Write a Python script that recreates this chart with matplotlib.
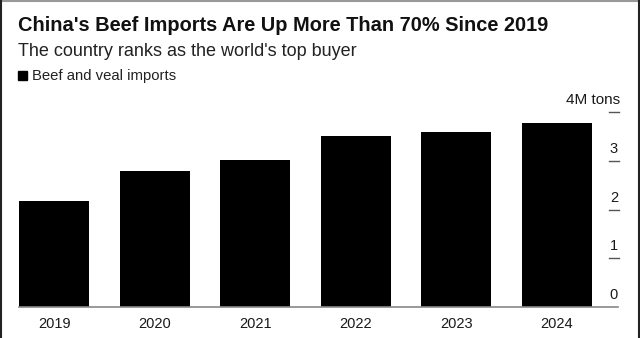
import matplotlib
matplotlib.use("Agg")
import matplotlib.pyplot as plt
import matplotlib.transforms as mtransforms
from matplotlib.lines import Line2D
from matplotlib.patches import Rectangle

years = ["2019", "2020", "2021", "2022", "2023", "2024"]
imports_mt = [2.18, 2.79, 3.03, 3.52, 3.59, 3.78]
y_ticks = [0, 1, 2, 3, 4]
y_tick_labels = ["0", "1", "2", "3", "4M tons"]

title = "China's Beef Imports Are Up More Than 70% Since 2019"
subtitle = "The country ranks as the world's top buyer"
legend_label = "Beef and veal imports"

plt.rcParams["font.family"] = ["Liberation Sans", "DejaVu Sans"]

W, H = 640, 338
fig = plt.figure(figsize=(W / 100, H / 100), dpi=100)
fig.patch.set_facecolor("white")

def px(x, y):
    return x / W, 1 - y / H

# axes: x from 19 to 618 px, y from 307 (0) to 112.3 (4)
ax_left, ax_right = 19, 618
ax_bottom, ax_top = 307, 112.3
ax = fig.add_axes([ax_left / W, 1 - ax_bottom / H, (ax_right - ax_left) / W, (ax_bottom - ax_top) / H])
ax.set_facecolor("none")
xs = list(range(len(years)))
ax.bar(xs, imports_mt, width=0.7, color="black", zorder=2)
unit_px = (592 - 19) / 5.7
ax.set_xlim(-0.35, -0.35 + (ax_right - ax_left) / unit_px)
ax.set_ylim(0, 4)
for s in ax.spines.values():
    s.set_visible(False)
ax.set_yticks([])
ax.set_xticks(xs)
ax.set_xticklabels(years, fontsize=10.5, color="#1a1a1a")
ax.tick_params(axis="x", length=0, pad=7)

trans = mtransforms.blended_transform_factory(ax.transAxes, ax.transData)
# baseline
ax.add_line(Line2D([0, 1], [0, 0], transform=trans, color="#888888", lw=1.2, clip_on=False, zorder=3))
tick_x0 = (609 - ax_left) / (ax_right - ax_left)
tick_x1 = (619 - ax_left) / (ax_right - ax_left)
tick_xc = (614 - ax_left) / (ax_right - ax_left)
for v, lab in zip(y_ticks, y_tick_labels):
    if v != 0:
        ax.add_line(Line2D([tick_x0, tick_x1], [v, v], transform=trans, color="#555555", lw=1.0, clip_on=False))
    off = mtransforms.offset_copy(trans, fig=fig, x=0, y=5, units="dots")
    if v == 4:
        ax.text(tick_x1 + 0.002, v, lab, transform=off, ha="right", va="bottom", fontsize=11, color="#1a1a1a")
    else:
        ax.text(tick_xc, v, lab, transform=off, ha="center", va="bottom", fontsize=10.5, color="#1a1a1a")

# titles
fig.text(*px(18, 31), title, fontsize=14.4, fontweight="bold", color="#111111", ha="left", va="baseline")
fig.text(*px(18, 56), subtitle, fontsize=13, color="#222222", ha="left", va="baseline")
fig.patches.append(Rectangle(px(18, 80), 9 / W, 9 / H, transform=fig.transFigure, color="black"))
fig.text(*px(32, 80), legend_label, fontsize=10.7, color="#222222", ha="left", va="baseline")

# frame border
fig.add_artist(Line2D([0, 1], [1 - 0.5 / H, 1 - 0.5 / H], transform=fig.transFigure, color="#999999", lw=1.5))
fig.add_artist(Line2D([1 / W, 1 / W], [0, 1], transform=fig.transFigure, color="#222222", lw=1.5))
fig.add_artist(Line2D([1 - 1.5 / W, 1 - 1.5 / W], [0, 1], transform=fig.transFigure, color="#222222", lw=1.5))

fig.savefig("out.png", dpi=100, facecolor="white")
